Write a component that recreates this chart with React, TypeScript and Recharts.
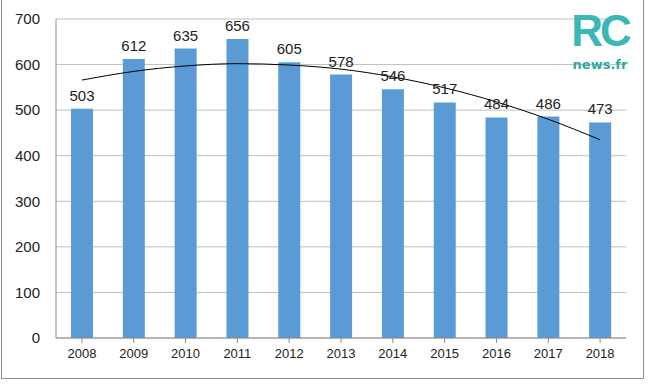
import { ComposedChart, Bar, Line, XAxis, YAxis, CartesianGrid, LabelList } from "recharts";

const years = ["2008", "2009", "2010", "2011", "2012", "2013", "2014", "2015", "2016", "2017", "2018"];
const counts = [503, 612, 635, 656, 605, 578, 546, 517, 484, 486, 473];
// polynomial trend line
const trend = [566, 585, 597, 602, 599, 590, 573, 549, 518, 480, 435];
const yTicks = [0, 100, 200, 300, 400, 500, 600, 700];

const data = years.map((y, i) => ({ year: y, count: counts[i], trend: trend[i] }));

const font = "'Liberation Sans', Arial, sans-serif";

export default function App() {
  return (
    <div style={{ position: "fixed", left: 0, top: 0, width: 650, height: 385, background: "#fff", fontFamily: font }}>
      <div
        style={{
          position: "absolute",
          left: 1,
          top: -1,
          width: 641,
          height: 378,
          border: "1px solid #8c8c8c",
        }}
      />
      <ComposedChart
        width={650}
        height={385}
        data={data}
        margin={{ top: 19, right: 24, bottom: 0, left: 0 }}
        barSize={22}
      >
        <CartesianGrid vertical={false} stroke="#bfbfbf" />
        <XAxis
          dataKey="year"
          stroke="#8c8c8c"
          height={47}
          tickSize={5}
          tick={{ fill: "#222", fontSize: 13, fontFamily: font }}
          tickMargin={6}
        />
        <YAxis
          domain={[0, 700]}
          ticks={yTicks}
          width={56}
          stroke="#8c8c8c"
          tickLine={false}
          tick={{ fill: "#222", fontSize: 15, fontFamily: font }}
          tickMargin={10}
        />
        <Bar dataKey="count" fill="#5b9bd5" isAnimationActive={false}>
          <LabelList dataKey="count" position="top" offset={8} fill="#222" fontSize={15} fontFamily={font} />
        </Bar>
        <Line
          dataKey="trend"
          type="monotone"
          stroke="#000"
          strokeWidth={1}
          dot={false}
          isAnimationActive={false}
        />
      </ComposedChart>
      <div
        style={{
          position: "absolute",
          left: 561,
          top: 6,
          width: 78,
          textAlign: "center",
          fontFamily: font,
          fontWeight: 700,
          fontSize: 44,
          color: "#3bb8b3",
          letterSpacing: -3,
        }}
      >
        RC
      </div>
      <div
        style={{
          position: "absolute",
          left: 561,
          top: 57,
          width: 78,
          textAlign: "center",
          fontFamily: "'DejaVu Sans', sans-serif",
          fontWeight: 700,
          fontSize: 13,
          color: "#2ea8a3",
        }}
      >
        news.fr
      </div>
    </div>
  );
}
